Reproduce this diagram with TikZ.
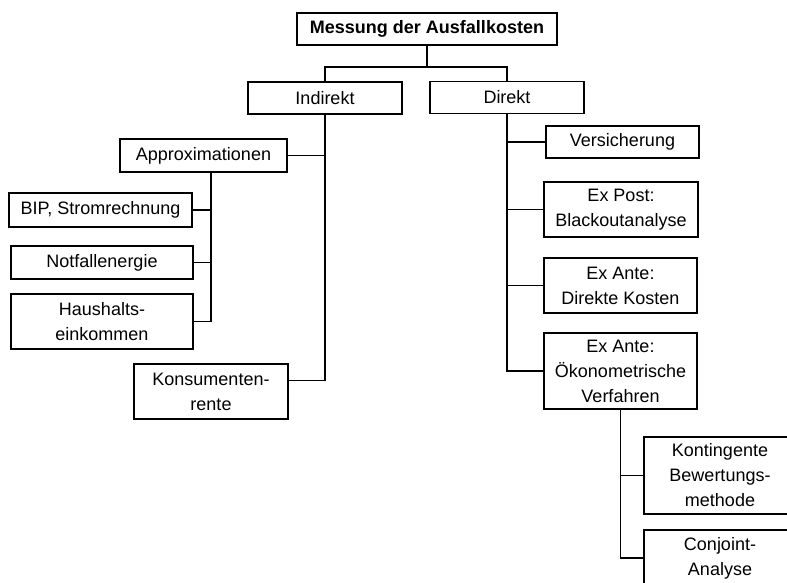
\documentclass[tikz,border=0pt]{standalone}
\usepackage{fontspec}
\setmainfont{Liberation Sans}
\begin{document}
\begin{tikzpicture}[x=0.5pt,y=-0.5pt,line width=0.7pt]

        \path[use as bounding box,clip] (0,0) rectangle (787,583);

        \begin{scope}[every node/.style={draw, align=center, inner sep=0pt, font=\fontsize{9}{12.5}\selectfont}]
          \node[minimum width=130pt, minimum height=16pt] (root) at (427,29) {\bfseries Messung der Ausfallkosten};
          \node[minimum width=77pt, minimum height=16pt] (ind) at (325,98) {Indirekt};
          \node[minimum width=77pt, minimum height=16pt] (dir) at (507,97.5) {Direkt};

          \node[minimum width=83.5pt, minimum height=16.5pt] (approx) at (203.5,155.5) {Approximationen};
          \node[minimum width=91.5pt, minimum height=17pt] (bip) at (100.5,210) {BIP, Stromrechnung};
          \node[minimum width=91pt, minimum height=16.5pt] (notf) at (102,262.5) {Notfallenergie};
          \node[minimum width=91pt, minimum height=27.5pt] (haus) at (102,321.5) {Haushalts-\\einkommen};
          \node[minimum width=77pt, minimum height=27.5pt] (kons) at (211,391.5) {Konsumenten-\\rente};

          \node[minimum width=76.5pt, minimum height=16pt] (vers) at (622.5,142) {Versicherung};
          \node[minimum width=77pt, minimum height=27.5pt] (expost) at (621,209.5) {Ex Post:\\Blackoutanalyse};
          \node[minimum width=76.5pt, minimum height=27.5pt] (exdir) at (620.5,285.5) {Ex Ante:\\Direkte Kosten};
          \node[minimum width=76.5pt, minimum height=38pt] (oekon) at (620.5,371) {Ex Ante:\\Ökonometrische\\Verfahren};
          \node[minimum width=76pt, minimum height=38.5pt] (kont) at (720,475.5) {Kontingente\\Bewertungs-\\methode};
          \node[minimum width=76pt, minimum height=28pt] (conj) at (720,558) {Conjoint-\\Analyse};
        \end{scope}

        \coordinate (fork) at (427,67);
        \coordinate (astem) at ([xshift=3.75pt]approx.south);

        \draw (root) -- (fork);
        \draw (ind.north) |- (fork) -| (dir.north);

        \draw (ind.south) |- ([yshift=5.5pt]kons.east);
        \draw (ind.south |- approx.east) -- (approx.east);
        \draw (astem) |- (haus.east);
        \foreach \n in {bip,notf}
          \draw (astem |- \n.east) -- (\n.east);

        \draw (dir.south) |- (oekon.west);
        \foreach \n in {vers,expost,exdir}
          \draw (dir.south |- \n.west) -- (\n.west);

        \draw (oekon.south) |- (conj.west);
        \draw (oekon.south |- kont.west) -- (kont.west);

      \end{tikzpicture}
\end{document}
